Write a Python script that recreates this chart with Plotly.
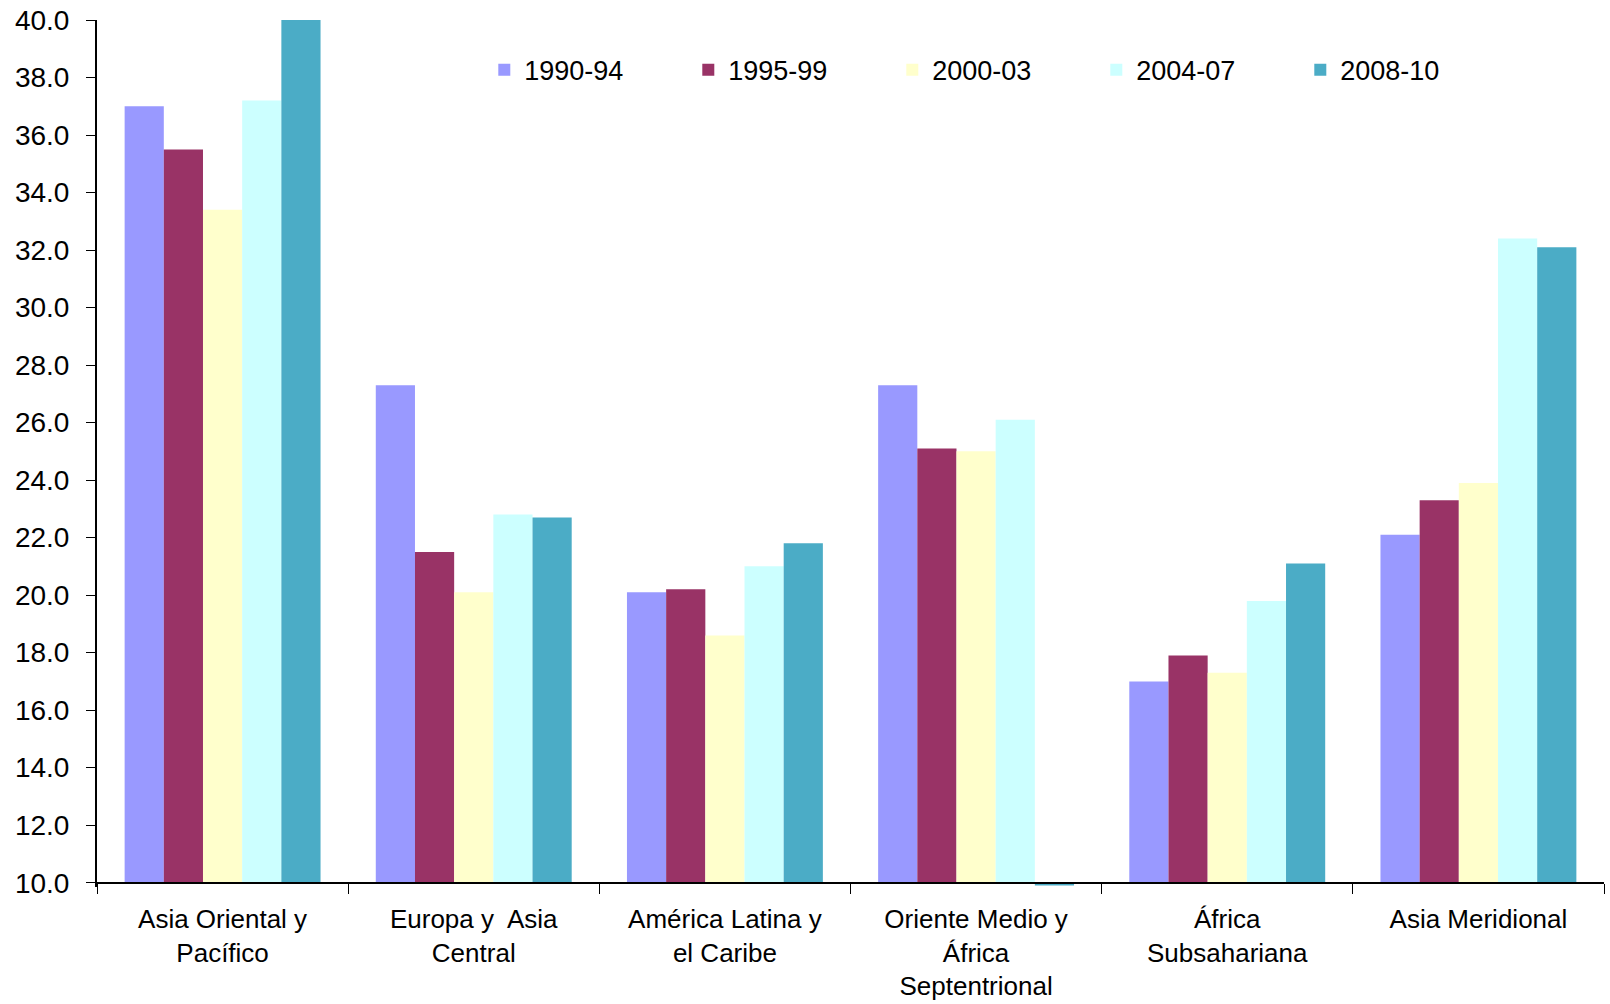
import plotly.graph_objects as go

categories = ["Asia Oriental y<br>Pacífico", "Europa y  Asia<br>Central",
              "América Latina y<br>el Caribe", "Oriente Medio y<br>África<br>Septentrional",
              "África<br>Subsahariana", "Asia Meridional"]
series_names = ["1990-94", "1995-99", "2000-03", "2004-07", "2008-10"]
v_1990_94 = [37.0, 27.3, 20.1, 27.3, 17.0, 22.1]
v_1995_99 = [35.5, 21.5, 20.2, 25.1, 17.9, 23.3]
v_2000_03 = [33.4, 20.1, 18.6, 25.0, 17.3, 23.9]
v_2004_07 = [37.2, 22.8, 21.0, 26.1, 19.8, 32.4]
v_2008_10 = [40.0, 22.7, 21.8, 9.9, 21.1, 32.1]
colors = ["#9999FF", "#993366", "#FFFFCC", "#CCFFFF", "#4BACC6"]
y_ticks = [10, 12, 14, 16, 18, 20, 22, 24, 26, 28, 30, 32, 34, 36, 38, 40]

AXIS_CROSS = 10.0
Y_MIN = 9.85
Y_MAX = 40.0

fig = go.Figure()
for name, vals, col in zip(series_names, [v_1990_94, v_1995_99, v_2000_03, v_2004_07, v_2008_10], colors):
    fig.add_trace(go.Bar(
        name=name, x=categories, y=[v - AXIS_CROSS for v in vals], base=AXIS_CROSS,
        marker=dict(color=col, line=dict(width=0)),
    ))

font = "Liberation Sans, Arial, sans-serif"
fig.update_layout(
    barmode="group", bargap=0.22, bargroupgap=0,
    width=1610, height=1004,
    margin=dict(l=97, r=6, t=20, b=117),
    paper_bgcolor="white", plot_bgcolor="white",
    font=dict(family=font, size=26, color="black"),
    showlegend=True,
    legend=dict(orientation="h", x=0.257, y=0.942, xanchor="left", yanchor="middle",
                entrywidth=159, entrywidthmode="pixels", font=dict(size=27),
                bgcolor="rgba(0,0,0,0)", itemwidth=30, traceorder="normal"),
    xaxis=dict(showline=True, linecolor="black", linewidth=2, automargin=False,
               ticks="outside", tickson="boundaries", ticklen=10, tickcolor="black", tickwidth=1,
               tickfont=dict(size=26), anchor="free", ticklabelstandoff=13,
               position=(AXIS_CROSS - Y_MIN) / (Y_MAX - Y_MIN), showgrid=False),
    yaxis=dict(range=[Y_MIN, Y_MAX], tickvals=y_ticks, tickformat=".1f", automargin=False,
               showline=True, linecolor="black", linewidth=2,
               ticks="outside", ticklen=9, tickcolor="black", tickwidth=1,
               showgrid=False, zeroline=False, tickfont=dict(size=28),
               ticklabelstandoff=11),
)

fig.write_html("out.html")
